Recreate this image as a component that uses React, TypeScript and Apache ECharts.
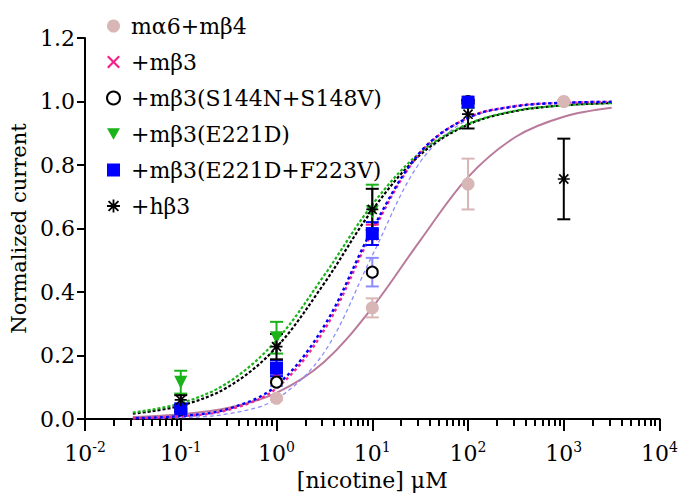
import React, { useEffect, useRef } from 'react';
import * as echarts from 'echarts';

// ---------- data ----------
const seriesNames = [
  'mα6+mβ4',
  '+mβ3',
  '+mβ3(S144N+S148V)',
  '+mβ3(E221D)',
  '+mβ3(E221D+F223V)',
  '+hβ3',
];

// measured points: doses, means, SEM
const a6b4X = [1, 10, 100, 1000];
const a6b4Y = [0.065, 0.35, 0.74, 1.0];
const a6b4E = [0.005, 0.03, 0.08, 0.005];

const mb3X = [0.1, 1, 10, 100];
const mb3Y = [0.028, 0.135, 0.58, 1.0];
const mb3E = [0.005, 0.02, 0.032, 0.005];

const snX = [0.1, 1, 10, 100];
const snY = [0.03, 0.116, 0.4625, 1.0];
const snE = [0.005, 0.012, 0.045, 0.005];

const edX = [0.1, 1, 10, 100];
const edY = [0.116, 0.256, 0.653, 0.99];
const edE = [0.036, 0.05, 0.085, 0.01];

const efX = [0.1, 1, 10, 100];
const efY = [0.032, 0.16, 0.584, 0.998];
const efE = [0.01, 0.025, 0.036, 0.005];

const hb3X = [0.1, 1, 10, 100, 1000];
const hb3Y = [0.06, 0.228, 0.66, 0.96, 0.756];
const hb3E = [0.015, 0.04, 0.065, 0.045, 0.127];

// fitted curves at half-decade steps
const curveX = [0.0316, 0.1, 0.316, 1, 3.16, 10, 31.6, 100, 316, 1000, 3162];
const a6b4Curve = [0.006, 0.0147, 0.0353, 0.0824, 0.1805, 0.351, 0.562, 0.762, 0.889, 0.952, 0.98];
const mb3Curve = [0.0023, 0.0081, 0.029, 0.097, 0.281, 0.587, 0.838, 0.949, 0.986, 0.996, 0.999];
const snCurve = [0.0011, 0.0042, 0.0166, 0.063, 0.211, 0.515, 0.809, 0.944, 0.985, 0.996, 0.999];
const edCurve = [0.0204, 0.0497, 0.116, 0.248, 0.453, 0.675, 0.839, 0.929, 0.971, 0.988, 0.995];
const efCurve = [0.0026, 0.0093, 0.032, 0.105, 0.294, 0.597, 0.84, 0.949, 0.985, 0.996, 0.999];
const hb3Curve = [0.0169, 0.042, 0.102, 0.226, 0.428, 0.658, 0.832, 0.927, 0.97, 0.988, 0.995];

const xMin = 0.01;
const xMax = 10000;
const yMin = 0;
const yMax = 1.2;
const yStep = 0.2;

// ---------- styles ----------
const FONT = 'DejaVu Serif';
const C_A6B4_PT = '#d9b6b6';
const C_A6B4_LINE = '#b97a9b';
const C_MB3 = '#f5228a';
const C_SN_BAR = '#8c8cff';
const C_SN = '#000000';
const C_ED = '#1ab31a';
const C_EF = '#0000ff';
const C_HB3 = '#000000';

const CROSS = 'path://M0,1.2L1.2,0L5,3.8L8.8,0L10,1.2L6.2,5L10,8.8L8.8,10L5,6.2L1.2,10L0,8.8L3.8,5Z';
const TRI_DOWN = 'path://M0,0L10,0L5,9Z';
const STAR =
  'path://M4.3,0H5.7V10H4.3Z M0,4.3H10V5.7H0Z M0.7,1.7L1.7,0.7L9.3,8.3L8.3,9.3Z M8.3,0.7L9.3,1.7L1.7,9.3L0.7,8.3Z';

const zip = (xs: number[], ys: number[]) => xs.map((x, i) => [x, ys[i]]);

const curve = (ys: number[], color: string, width: number, type: any, offset = 0, z = 2) => ({
  type: 'line',
  data: zip(curveX, ys),
  showSymbol: false,
  symbol: 'none',
  smooth: 0.35,
  silent: true,
  z,
  lineStyle: { color, width, type, dashOffset: offset },
});

const errorBars = (xs: number[], ys: number[], es: number[], color: string) => ({
  type: 'custom',
  silent: true,
  z: 3,
  data: xs.map((x, i) => [x, ys[i], es[i]]),
  encode: { x: 0, y: 1 },
  renderItem: (_params: any, api: any) => {
    const x = api.value(0);
    const y = api.value(1);
    const e = api.value(2);
    const t = api.coord([x, y + e]);
    const b = api.coord([x, y - e]);
    const hw = 6.5;
    const st = { stroke: color, lineWidth: 2 };
    return {
      type: 'group',
      children: [
        { type: 'line', shape: { x1: t[0], y1: t[1], x2: b[0], y2: b[1] }, style: st },
        { type: 'line', shape: { x1: t[0] - hw, y1: t[1], x2: t[0] + hw, y2: t[1] }, style: st },
        { type: 'line', shape: { x1: b[0] - hw, y1: b[1], x2: b[0] + hw, y2: b[1] }, style: st },
      ],
    };
  },
});

const scatter = (name: string, xs: number[], ys: number[], symbol: string, size: number, itemStyle: any) => ({
  type: 'scatter',
  name,
  data: zip(xs, ys),
  symbol,
  symbolSize: size,
  itemStyle: { opacity: 1, ...itemStyle },
  z: 5,
});

export default function App() {
  const ref = useRef<HTMLDivElement>(null);
  useEffect(() => {
    if (!ref.current) return;
    const chart = echarts.init(ref.current, undefined, { renderer: 'svg' });
    chart.setOption({
      animation: false,
      backgroundColor: '#ffffff',
      textStyle: { fontFamily: FONT },
      grid: { left: 85, right: 21, top: 38, bottom: 74, containLabel: false },
      legend: {
        data: seriesNames,
        orient: 'vertical',
        left: 101,
        top: 8,
        itemWidth: 13,
        itemHeight: 13,
        itemGap: 10,
        textStyle: { fontFamily: FONT, fontSize: 22, color: '#000', lineHeight: 26, padding: [0, 0, 0, 6] },
        selectedMode: false,
      },
      xAxis: {
        type: 'log',
        logBase: 10,
        min: xMin,
        max: xMax,
        interval: 1,
        splitNumber: 6,
        name: '[nicotine] μM',
        nameLocation: 'middle',
        nameGap: 50,
        nameTextStyle: { fontFamily: FONT, fontSize: 22, color: '#000' },
        axisLine: { show: true, lineStyle: { color: '#000', width: 2 } },
        axisTick: { show: true, length: 12, lineStyle: { color: '#000', width: 2 } },
        minorTick: { show: true, splitNumber: 9, length: 7, lineStyle: { color: '#000', width: 2 } },
        splitLine: { show: false },
        minorSplitLine: { show: false },
        axisLabel: {
          margin: 21,
          color: '#000',
          fontFamily: FONT,
          formatter: (v: number) => `{b|10}{s|${Math.round(Math.log10(v))}}`,
          rich: {
            b: { fontFamily: FONT, fontSize: 22, color: '#000', lineHeight: 24, verticalAlign: 'bottom' },
            s: { fontFamily: FONT, fontSize: 14, color: '#000', lineHeight: 14, verticalAlign: 'top' },
          },
        },
      },
      yAxis: {
        type: 'value',
        min: yMin,
        max: yMax,
        interval: yStep,
        name: 'Normalized current',
        nameLocation: 'middle',
        nameGap: 50,
        nameTextStyle: { fontFamily: FONT, fontSize: 21, color: '#000' },
        axisLine: { show: true, lineStyle: { color: '#000', width: 2 } },
        axisTick: { show: true, length: 8, lineStyle: { color: '#000', width: 2 } },
        splitLine: { show: false },
        axisLabel: {
          margin: 10,
          fontFamily: FONT,
          fontSize: 22,
          color: '#000',
          formatter: (v: number) => v.toFixed(1),
        },
      },
      series: [
        curve(a6b4Curve, C_A6B4_LINE, 2, 'solid', 0, 2),
        curve(snCurve, C_SN_BAR, 1.3, [4, 3], 0, 2),
        curve(hb3Curve, C_HB3, 2.2, [3, 2], 0, 2),
        curve(edCurve, C_ED, 2.2, [3, 2], 0, 2),
        curve(mb3Curve, C_MB3, 2.4, [3, 3], 0, 2),
        curve(efCurve, C_EF, 2.4, [3, 3], 3, 2),
        errorBars(a6b4X, a6b4Y, a6b4E, C_A6B4_PT),
        errorBars(mb3X, mb3Y, mb3E, C_MB3),
        errorBars(snX, snY, snE, C_SN_BAR),
        errorBars(edX, edY, edE, C_ED),
        errorBars(efX, efY, efE, C_EF),
        errorBars(hb3X, hb3Y, hb3E, C_HB3),
        scatter(seriesNames[0], a6b4X, a6b4Y, 'circle', 13, { color: C_A6B4_PT }),
        scatter(seriesNames[1], mb3X, mb3Y, CROSS, 12, { color: C_MB3 }),
        scatter(seriesNames[2], snX, snY, 'emptyCircle', 11, { color: C_SN, borderColor: C_SN, borderWidth: 2 }),
        scatter(seriesNames[3], edX, edY, TRI_DOWN, 13, { color: C_ED }),
        scatter(seriesNames[4], efX, efY, 'rect', 13, { color: C_EF }),
        scatter(seriesNames[5], hb3X, hb3Y, STAR, 12, { color: C_HB3 }),
      ],
    });
    return () => chart.dispose();
  }, []);
  return <div ref={ref} style={{ position: 'fixed', left: 0, top: 0, width: 681, height: 496 }} />;
}
